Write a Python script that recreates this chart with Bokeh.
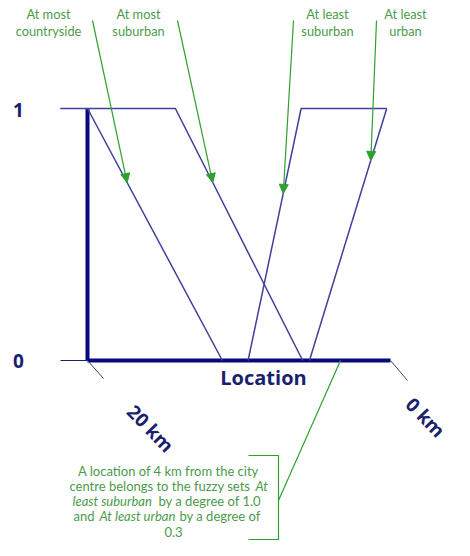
from bokeh.plotting import figure
from bokeh.models import Range1d, Arrow, NormalHead
from bokeh.core.properties import value
from bokeh.embed import file_html
from bokeh.resources import INLINE
import numpy as np

# ---- data (distance from city centre in km, membership degree) ----
most_country_x = [20.0, 11.1]
most_country_y = [1.0, 0.0]
most_suburb_x = [21.8, 14.2, 5.8]
most_suburb_y = [1.0, 1.0, 0.0]
least_suburb_x = [9.4, 5.9, 0.25]
least_suburb_y = [0.0, 1.0, 1.0]
least_urban_x = [5.35, 0.25]
least_urban_y = [0.0, 1.0]
set_labels = [["At most", "countryside"], ["At most", "suburban"],
              ["At least", "suburban"], ["At least", "urban"]]
arrow_degree = [0.706, 0.706, 0.663, 0.794]
location_km = 3.3
axis_start_km = 20.0
axis_end_km = 0.0

# ---- layout helpers (picture pixels -> data) ----
def X(px):
    return 20 - (px - 87) / 15.15

def Y(py):
    return (360 - py) / 252

NAVY = "#1a1f6e"
LINE = "#40409a"
AXIS = "#08087e"
GREEN_T = "#4b9b4b"
GREEN_A = "#30a030"
FONT = value("Lato")
BFONT = value("Open Sans")

p = figure(width=454, height=540, output_backend="svg", toolbar_location=None,
           x_range=Range1d(X(0), X(454)), y_range=Range1d(Y(540), Y(0)),
           min_border=0, outline_line_color=None, background_fill_color="white",
           border_fill_color="white")
p.axis.visible = False
p.grid.visible = False

# axes
p.line([X(60), axis_start_km], [0, 0], line_color=NAVY, line_width=1.2)
p.line([axis_start_km, axis_start_km], [0, 1], line_color=AXIS, line_width=4)
p.line([axis_start_km, axis_end_km], [0, 0], line_color=AXIS, line_width=4)
p.line([axis_start_km, X(103)], [0, Y(378)], line_color="#444466", line_width=1)
p.line([axis_end_km, X(407)], [0, Y(380)], line_color="#444466", line_width=1)

# membership functions
series = [(most_country_x, most_country_y), (most_suburb_x, most_suburb_y),
          (least_suburb_x, least_suburb_y), (least_urban_x, least_urban_y)]
for xs, ys in series:
    p.line(xs, ys, line_color=LINE, line_width=1.5)

# axis texts
p.text(x=[X(18), X(18)], y=[Y(109), Y(360)], text=["1", "0"], text_font=BFONT,
       text_font_size=value("19px"), text_font_style="bold", text_color=NAVY,
       text_align="center", text_baseline="middle")
p.text(x=[X(263)], y=[Y(377)], text=["Location"], text_font=BFONT,
       text_font_size=value("20px"), text_font_style="bold", text_color=NAVY,
       text_align="center", text_baseline="middle")
p.text(x=[X(150), X(425)], y=[Y(428), Y(417)], text=["20 km", "0 km"], angle=-0.8,
       text_font=BFONT, text_font_size=value("19px"), text_font_style="bold",
       text_color=NAVY, text_align="center", text_baseline="middle")

# set labels with arrows
label_cx = [48, 138, 327, 405]
arrow_sx = [92, 177, 293, 376]
for (l1, l2), cx, sx, deg, (xs, ys) in zip(set_labels, label_cx, arrow_sx, arrow_degree, series):
    p.text(x=[X(cx), X(cx)], y=[Y(13), Y(30)], text=[l1, l2], text_font=FONT,
           text_font_size=value("12.8px"), text_color=GREEN_T,
           text_align="center", text_baseline="middle")
    if len(xs) == 3:
        if ys[0] == ys[1]:
            xx, yy = np.array([xs[2], xs[1]]), np.array([ys[2], ys[1]])
        else:
            xx, yy = np.array([xs[0], xs[1]]), np.array([ys[0], ys[1]])
    else:
        order = np.argsort(ys)
        xx, yy = np.array(xs)[order], np.array(ys)[order]
    ex = float(np.interp(deg, yy, xx))
    p.add_layout(Arrow(end=NormalHead(size=9, fill_color=GREEN_A, line_color=GREEN_A),
                       x_start=X(sx), y_start=Y(20), x_end=ex, y_end=deg,
                       line_color=GREEN_A, line_width=1.2))

# callout
p.line([location_km, X(278)], [0, Y(500)], line_color=GREEN_A, line_width=1.2)
p.line([X(248), X(278), X(278), X(248)], [Y(455), Y(455), Y(539), Y(539)],
       line_color=GREEN_A, line_width=1.2)

FS = value("13px")
p.text(x=[X(168), X(173)], y=[Y(470), Y(531)],
       text=["A location of 4 km from the city", "0.3"], text_font=FONT,
       text_font_size=FS, text_color=GREEN_T, text_align="center", text_baseline="middle")
normal_parts = [("centre belongs to the fuzzy sets", 69, 485),
                ("by a degree of 1.0", 158, 500),
                ("and", 73, 515.5), ("by a degree of", 179, 515.5)]
italic_parts = [("At", 255, 485), ("least suburban", 72, 500), ("At least urban", 99, 515.5)]
p.text(x=[X(a[1]) for a in normal_parts], y=[Y(a[2]) for a in normal_parts],
       text=[a[0] for a in normal_parts], text_font=FONT, text_font_size=FS,
       text_color=GREEN_T, text_align="left", text_baseline="middle")
p.text(x=[X(a[1]) for a in italic_parts], y=[Y(a[2]) for a in italic_parts],
       text=[a[0] for a in italic_parts], text_font=FONT, text_font_size=FS,
       text_font_style="italic", text_color=GREEN_T, text_align="left", text_baseline="middle")

open("out.html", "w").write(file_html(p, INLINE))
